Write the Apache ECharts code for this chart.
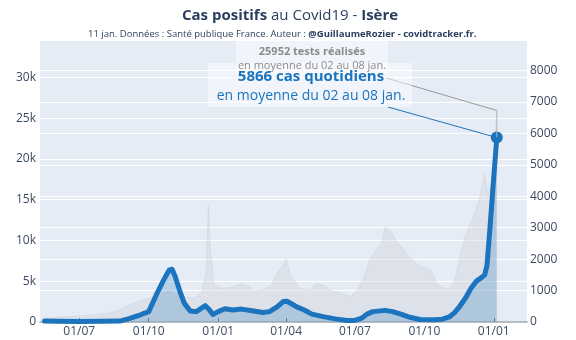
<!DOCTYPE html>
<html><head><meta charset="utf-8">
<script src="https://cdn.jsdelivr.net/npm/echarts@6/dist/echarts.min.js"></script>
<style>html,body{margin:0;padding:0;background:#fff}#c{width:576px;height:340px}</style>
</head><body><div id="c"></div>
<script>
// ---- data ----
const caseDates = ['2020-05-16','2020-06-01','2020-07-01','2020-08-01','2020-08-24','2020-09-05','2020-09-20','2020-10-01','2020-10-11','2020-10-20','2020-10-28','2020-11-01','2020-11-05','2020-11-11','2020-11-17','2020-11-25','2020-12-03','2020-12-15','2020-12-20','2020-12-25','2021-01-01','2021-01-10','2021-01-20','2021-02-01','2021-02-15','2021-03-01','2021-03-10','2021-03-20','2021-03-28','2021-04-02','2021-04-08','2021-04-15','2021-04-25','2021-05-05','2021-05-20','2021-06-05','2021-06-20','2021-07-01','2021-07-10','2021-07-17','2021-07-25','2021-08-10','2021-08-20','2021-09-01','2021-09-12','2021-09-25','2021-10-15','2021-10-25','2021-11-03','2021-11-10','2021-11-17','2021-11-25','2021-12-02','2021-12-09','2021-12-16','2021-12-20','2021-12-23','2021-12-27','2021-12-31','2022-01-05'];
const caseValues = [30,20,15,20,30,110,230,330,860,1300,1650,1680,1450,1000,600,350,330,520,400,240,330,420,380,410,360,300,330,480,650,660,580,480,380,250,170,100,45,50,120,250,330,370,330,240,150,80,70,90,160,300,500,780,1080,1300,1420,1500,1800,3000,4300,5866];
const testDates = ['2020-05-16','2020-06-01','2020-06-15','2020-07-01','2020-07-20','2020-08-10','2020-08-24','2020-09-05','2020-09-20','2020-10-01','2020-10-15','2020-10-28','2020-11-08','2020-11-17','2020-11-30','2020-12-10','2020-12-16','2020-12-19','2020-12-22','2020-12-26','2021-01-05','2021-01-20','2021-02-01','2021-02-08','2021-02-18','2021-03-01','2021-03-12','2021-03-20','2021-03-27','2021-04-01','2021-04-06','2021-04-12','2021-04-20','2021-05-01','2021-05-12','2021-05-20','2021-06-01','2021-06-15','2021-06-25','2021-07-05','2021-07-13','2021-07-20','2021-07-27','2021-08-05','2021-08-10','2021-08-18','2021-08-25','2021-09-02','2021-09-10','2021-09-20','2021-10-01','2021-10-10','2021-10-17','2021-10-25','2021-11-03','2021-11-10','2021-11-17','2021-11-25','2021-12-03','2021-12-12','2021-12-20','2021-12-24','2021-12-30','2022-01-05'];
const testValues = [450,550,650,750,900,1100,1500,2100,2600,2900,3300,3800,3400,3100,2900,3600,6000,14200,8500,4800,4100,4300,4700,4500,3800,4000,4400,6000,6800,7800,5900,5000,4100,3900,4700,4500,3800,3400,3100,4000,5500,7500,8600,9500,11700,11100,9900,9100,8100,7200,6700,6300,4800,4300,4000,5000,8000,10800,12500,14800,18200,15800,17000,25952];
const xTickDates = ['2020-07-01','2020-10-01','2021-01-01','2021-04-01','2021-07-01','2021-10-01','2022-01-01'];
const titleMain = 'Cas positifs';
const titleMid = ' au Covid19 - ';
const titleEnd = 'Isère';
const subtitleA = '11 jan. Données : Santé publique France. Auteur : ';
const subtitleB = '@GuillaumeRozier - covidtracker.fr.';
const testsLabel1 = '25952 tests réalisés';
const testsLabel2 = 'en moyenne du 02 au 08 jan.';
const casesLabel1 = '5866 cas quotidiens';
const casesLabel2 = 'en moyenne du 02 au 08 jan.';

// ---- chart ----
const ts = s => Date.parse(s + 'T00:00:00Z');
const pad = n => (n < 10 ? '0' : '') + n;
const FONT = '"Open Sans", "Noto Sans", sans-serif';
const TXT = '#3b4a60';
const chart = echarts.init(document.getElementById('c'));
const option = {
  animation: false,
  backgroundColor: '#ffffff',
  textStyle: {fontFamily: FONT},
  title: [
    {text: '{b|' + titleMain + '}{n|' + titleMid + '}{b|' + titleEnd + '}', left: 177, top: 3,
     textStyle: {rich: {b: {fontFamily: FONT, fontWeight: 'bold', fontSize: 15, color: '#2a3f5f'},
                        n: {fontFamily: FONT, fontWeight: 'normal', fontSize: 15, color: '#2a3f5f'}}}},
    {text: '{n|' + subtitleA + '}{b|' + subtitleB + '}', left: 83, top: 24,
     textStyle: {rich: {b: {fontFamily: FONT, fontWeight: 'bold', fontSize: 9.5, color: '#2a3f5f'},
                        n: {fontFamily: FONT, fontWeight: 'normal', fontSize: 9.5, color: '#2a3f5f'}}}}
  ],
  grid: {left: 40, right: 49, top: 40, bottom: 18, show: true, backgroundColor: '#e5ecf6', borderWidth: 0},
  xAxis: {
    type: 'value', min: ts('2020-05-10'), max: ts('2022-02-14'),
    splitLine: {show: false},
    axisLine: {show: true, onZero: false, lineStyle: {color: '#a4a9b0', width: 1.5}},
    axisTick: {show: true, inside: true, length: 4, lineStyle: {color: '#555'}, customValues: xTickDates.map(ts)},
    axisLabel: {color: TXT, fontSize: 12, fontFamily: FONT, margin: 4, customValues: xTickDates.map(ts),
      formatter: v => { const d = new Date(v); return pad(d.getUTCDate()) + '/' + pad(d.getUTCMonth() + 1); }}
  },
  yAxis: [
    {type: 'value', min: 0, max: 34600, interval: 5000, position: 'left',
     axisLine: {show: false}, axisTick: {show: false},
     splitLine: {lineStyle: {color: '#ffffff', width: 1}},
     axisLabel: {color: TXT, fontSize: 12, fontFamily: FONT, margin: 4, showMaxLabel: false,
       formatter: v => v === 0 ? '0' : (v / 1000) + 'k'}},
    {type: 'value', min: 0, max: 8970, interval: 1000, position: 'right',
     axisLine: {show: false}, axisTick: {show: false},
     splitLine: {show: true, lineStyle: {color: '#ffffff', width: 1}},
     axisLabel: {color: TXT, fontSize: 12, fontFamily: FONT, margin: 3, showMaxLabel: false,
       formatter: v => String(v)}}
  ],
  series: [
    {type: 'line', name: 'tests', yAxisIndex: 0, symbol: 'none',
     data: testDates.map((d, i) => [ts(d), testValues[i]]),
     lineStyle: {width: 0.5, color: 'rgba(190,194,200,0.6)'},
     areaStyle: {color: 'rgba(200,203,208,0.45)'}, z: 2},
    {type: 'line', name: 'cas', yAxisIndex: 1, symbol: 'none',
     data: caseDates.map((d, i) => [ts(d), caseValues[i]]),
     lineStyle: {width: 5, color: '#1b74bd', join: 'round', cap: 'round'},
     areaStyle: {color: 'rgba(31,119,180,0.35)'}, z: 3},
    {type: 'scatter', yAxisIndex: 1, symbolSize: 12,
     data: [[ts(caseDates[caseDates.length - 1]), caseValues[caseValues.length - 1]]],
     itemStyle: {color: '#1b74bd', opacity: 1}, z: 5}
  ]
};
chart.setOption(option);

const pT = chart.convertToPixel({xAxisIndex: 0, yAxisIndex: 0}, [ts(testDates[testDates.length - 1]), testValues[testValues.length - 1]]);
const pC = chart.convertToPixel({xAxisIndex: 0, yAxisIndex: 1}, [ts(caseDates[caseDates.length - 1]), caseValues[caseValues.length - 1]]);
chart.setOption({graphic: [
  {type: 'line', z: 10, shape: {x1: 386, y1: 78, x2: pT[0], y2: pT[1]}, style: {stroke: '#9a9a9a', lineWidth: 1}},
  {type: 'line', z: 10, shape: {x1: pT[0], y1: pT[1], x2: pT[0], y2: pC[1]}, style: {stroke: '#b4b4b4', lineWidth: 1}},
  {type: 'rect', z: 11, shape: {x: 236, y: 41, width: 152, height: 34}, style: {fill: 'rgba(255,255,255,0.45)'}},
  {type: 'text', z: 12, style: {text: testsLabel1, x: 312, y: 52, align: 'center', verticalAlign: 'middle', fill: '#8c8c8c', font: 'bold 11px ' + FONT}},
  {type: 'text', z: 12, style: {text: testsLabel2, x: 312, y: 66, align: 'center', verticalAlign: 'middle', fill: '#8c8c8c', font: '11px ' + FONT}},
  {type: 'line', z: 10, shape: {x1: 388, y1: 107, x2: pC[0], y2: pC[1]}, style: {stroke: '#1b74bd', lineWidth: 1}},
  {type: 'rect', z: 11, shape: {x: 208, y: 63, width: 204, height: 44}, style: {fill: 'rgba(255,255,255,0.45)'}},
  {type: 'text', z: 12, style: {text: casesLabel1, x: 311, y: 77, align: 'center', verticalAlign: 'middle', fill: '#1b74bd', font: 'bold 15px ' + FONT}},
  {type: 'text', z: 12, style: {text: casesLabel2, x: 311, y: 96, align: 'center', verticalAlign: 'middle', fill: '#1b74bd', font: '14px ' + FONT}}
]});
</script></body></html>
